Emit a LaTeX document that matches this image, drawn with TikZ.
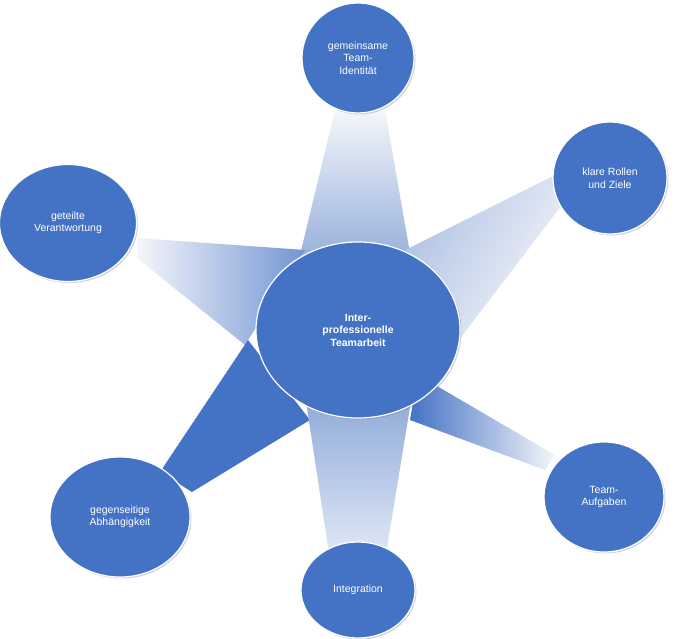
\documentclass[tikz,border=0pt]{standalone}
\usepackage{fontspec}
\setmainfont{Liberation Sans}
\usetikzlibrary{shadows,shapes.geometric}
\definecolor{nblue}{HTML}{4472C4}
\definecolor{wblue}{HTML}{8EA9D8}
\definecolor{pale}{HTML}{F4F6FA}
\tikzset{
  bubble/.style={ellipse, fill=nblue, draw=white, line width=1.2pt, text=white, align=center, font=\fontsize{10.5}{12.5}\selectfont, inner sep=0pt, drop shadow={opacity=0.35, shadow xshift=1.5pt, shadow yshift=-1.5pt}},
}
\begin{document}
\begin{tikzpicture}[x=1pt,y=-1pt]
\useasboundingbox (0,0) rectangle (685,639);
% wedges
\shade[shading=axis, top color=pale, bottom color=wblue!90] (300,255) -- (410,253) -- (385,110) -- (335,110) -- cycle;
\shade[shading=axis, left color=wblue!70, right color=pale, shading angle=60] (405,250) -- (555,175) -- (562,205) -- (455,345) -- cycle;
\shade[shading=axis, left color=pale, right color=nblue!75] (137,238) -- (305,250) -- (245,345) -- (137,258) -- cycle;
\fill[nblue] (248,340) -- (160,472) -- (192,492) -- (310,420) -- cycle;
\shade[shading=axis, top color=wblue, bottom color=nblue!15] (305,395) -- (412,395) -- (385,560) -- (330,560) -- cycle;
\shade[shading=axis, left color=nblue, right color=pale] (418,375) -- (555,455) -- (545,470) -- (410,420) -- cycle;
% nodes
\node[bubble, minimum width=204pt, minimum height=176pt, font=\bfseries\fontsize{10.5}{12.5}\selectfont] (c) at (358,330) {Inter-\\professionelle\\Teamarbeit};
\node[bubble, minimum width=112pt, minimum height=110pt] (t) at (358,58) {gemeinsame\\Team-\\Identität};
\node[bubble, minimum width=114pt, minimum height=112pt] (r) at (610,178) {klare Rollen\\und Ziele};
\node[bubble, minimum width=137pt, minimum height=117pt] (l) at (68,223) {geteilte\\Verantwortung};
\node[bubble, minimum width=120pt, minimum height=110pt] (a) at (604,497) {Team-\\Aufgaben};
\node[bubble, minimum width=140pt, minimum height=120pt] (g) at (120,517) {gegenseitige\\Abhängigkeit};
\node[bubble, minimum width=114pt, minimum height=96pt] (i) at (358,590) {Integration};
\end{tikzpicture}
\end{document}
